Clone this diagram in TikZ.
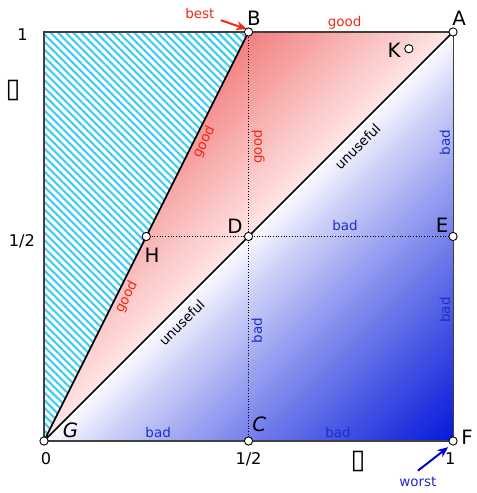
\documentclass[tikz,border=0pt]{standalone}
\usepackage{fontspec}
\setmainfont{DejaVu Sans}
\usetikzlibrary{arrows.meta,patterns.meta}
\definecolor{hatchcyan}{RGB}{64,204,240}
\definecolor{goodred}{RGB}{240,40,20}
\definecolor{badblue}{RGB}{30,45,200}
\definecolor{redB}{RGB}{242,126,126}
\definecolor{redmid}{RGB}{255,230,230}
\definecolor{blueF}{RGB}{5,25,218}
\tikzset{
  dot/.style={circle,draw,fill=white,inner sep=0pt,minimum size=4.6pt,line width=.5pt},
  ptlabel/.style={font=\fontsize{11}{13}\selectfont},
  ticklabel/.style={font=\fontsize{9}{11}\selectfont},
  goodlbl/.style={text=goodred,font=\fontsize{7.5}{9}\selectfont,sloped,inner sep=1.5pt},
  badlbl/.style={text=badblue,font=\fontsize{7.5}{9}\selectfont,sloped,inner sep=1.5pt},
  uselesslbl/.style={font=\fontsize{7.5}{9}\selectfont,sloped,inner sep=4.5pt},
  tofu/.style={font=\fontsize{15}{17}\selectfont,inner sep=0pt}
}
\begin{document}
\begin{tikzpicture}[x=8cm,y=8cm,>={Stealth[length=6pt,width=5pt]}]
  \useasboundingbox (-0.1076,-0.1271) rectangle (1.0562,1.0782);
  \coordinate (G) at (0,0);
  \coordinate (B) at (0.5,1);
  \coordinate (A) at (1,1);
  \coordinate (H) at (0.25,0.5);
  \coordinate (D) at (0.5,0.5);
  \coordinate (E) at (1,0.5);
  \coordinate (C) at (0.5,0);
  \coordinate (F) at (1,0);
  \coordinate (K) at (0.892,0.959);

  % regions
  \fill[pattern={Lines[angle=-45,distance=3pt,line width=1.2pt]},pattern color=hatchcyan]
    (G) -- (0,1) -- (B) -- cycle;
  \begin{scope}
    \clip (G) -- (B) -- (A) -- cycle;
    \foreach \i in {0,...,49} {
      \pgfmathsetmacro{\ua}{\i/100}
      \pgfmathsetmacro{\ub}{(\i+1.6)/100}
      \pgfmathsetmacro{\pct}{(\i+0.5)*2}
      \fill[fill={redB!\pct!redmid}]
        (-0.1,-0.1+\ua) -- (1.1,1.1+\ua) -- (1.1,1.1+\ub) -- (-0.1,-0.1+\ub) -- cycle;
    }
  \end{scope}
  \begin{scope}
    \clip (G) -- (A) -- (F) -- cycle;
    \foreach \i in {0,...,79} {
      \pgfmathsetmacro{\ua}{\i/80}
      \pgfmathsetmacro{\ub}{(\i+1.6)/80}
      \pgfmathsetmacro{\pct}{100*((\i+0.5)/80)^0.85}
      \fill[fill={blueF!\pct!white}]
        (-0.1,-0.1-\ua) -- (1.1,1.1-\ua) -- (1.1,1.1-\ub) -- (-0.1,-0.1-\ub) -- cycle;
    }
  \end{scope}

  % frame and lines
  \draw[black!75,line width=.6pt] (0,0) rectangle (1,1);
  \draw[densely dotted,line width=.5pt] (B) -- (C) (H) -- (E);
  \draw[line width=.9pt] (G) -- (B) (G) -- (A);

  % labels on the lines
  \path (B) -- (A) node[goodlbl,above,pos=.47] (goodBA) {good};
  \path (G) -- (B) node[goodlbl,below,pos=.741] (goodGB) {good}
                   node[goodlbl,below,pos=.362] (goodGH) {good};
  \path (C) -- (B) node[goodlbl,below,pos=.719] (goodDB) {good}
                   node[badlbl,below,pos=.27] (badCD) {bad};
  \path (F) -- (A) node[badlbl,above,pos=.729] (badEA) {bad}
                   node[badlbl,above,pos=.32] (badFE) {bad};
  \path (H) -- (E) node[badlbl,above,pos=.648,inner sep=3pt] (badDE) {bad};
  \path (G) -- (F) node[badlbl,above,pos=.279] (badGC) {bad}
                   node[badlbl,above,pos=.719] (badCF) {bad};
  \path (G) -- (A) node[uselesslbl,below,pos=.743] (uselessDA) {unuseful}
                   node[uselesslbl,below,pos=.313] (uselessGD) {unuseful};

  % points
  \foreach \p in {G,B,A,H,D,E,C,F,K}
    \node[dot] (dot\p) at (\p) {};
  \foreach \p/\x/\y in {B/0.513/1.034, A/1.015/1.034, K/0.856/0.956, D/0.467/0.526,
                        H/0.264/0.455, E/0.973/0.528, F/1.034/0.010}
    \node[ptlabel] (lbl\p) at (\x,\y) {\p};
  \node[ptlabel,font=\fontsize{11}{13}\selectfont\itshape] (lblG) at (0.065,0.027) {G};
  \node[ptlabel,font=\fontsize{11}{13}\selectfont\itshape] (lblC) at (0.526,0.042) {C};

  % axes
  \node[ticklabel] (yone) at (-0.0523,0.993) {1};
  \node[ticklabel] (yhalf) at (-0.054,0.489) {1/2};
  \node[ticklabel] (xzero) at (0.005,-0.044) {0};
  \node[ticklabel] (xhalf) at (0.5,-0.044) {1/2};
  \node[ticklabel] (xone) at (0.993,-0.044) {1};
  \node[tofu] (ytitle) at (-0.076,0.858) {▯};
  \node[tofu] (xtitle) at (0.768,-0.051) {▯};

  % best and worst
  \node[text=goodred,font=\fontsize{7.5}{9}\selectfont] (best) at (0.381,1.046) {best};
  \coordinate (bestTip) at (0.496,1.007);
  \draw[->,goodred,line width=1.1pt] (best) -- (bestTip);
  \node[text=badblue,font=\fontsize{7.5}{9}\selectfont] (worst) at (0.914,-0.10) {worst};
  \coordinate (worstTip) at (0.988,-0.015);
  \draw[->,blue!85!black,line width=1.1pt] (worst.north) -- (worstTip);
\end{tikzpicture}
\end{document}
